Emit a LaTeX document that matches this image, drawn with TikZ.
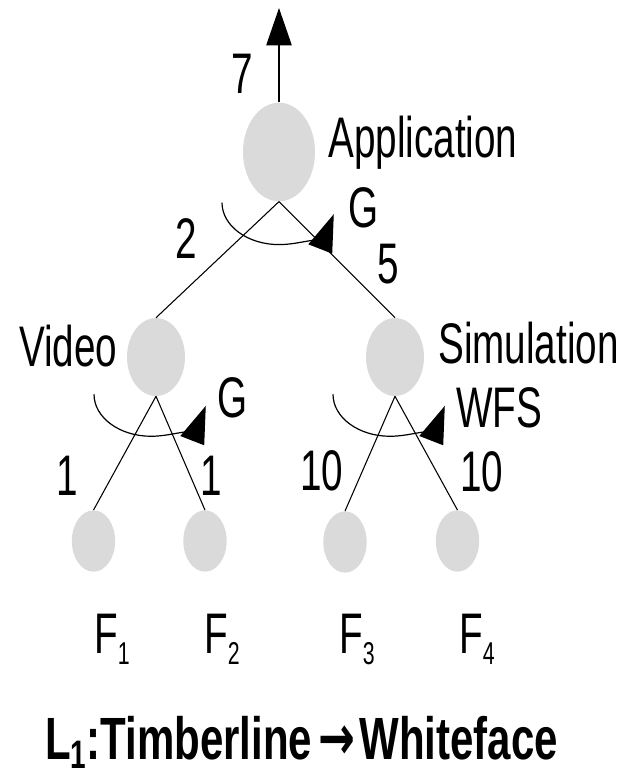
\documentclass[tikz,border=0pt]{standalone}
\usepackage{fontspec}
\setmainfont{Liberation Sans}
\newfontfamily\arrowfont{DejaVu Sans}
\usetikzlibrary{shapes.geometric,arrows.meta}
\definecolor{nodegray}{RGB}{218,218,218}
\newcommand{\lowidx}[1]{\raisebox{-6pt}{\fontsize{16}{18}\selectfont #1}}

\begin{document}
\begin{tikzpicture}[x=0.75pt,y=0.75pt,yscale=-1,xscale=1,
        blob/.style={ellipse, fill=nodegray, inner sep=0pt},
        lbl/.style={inner sep=0pt, font=\fontsize{29}{35}\selectfont, yscale=1.48},
        edge/.style={line width=0.8pt},
        turn/.style={line width=0.9pt, -{Triangle[length=28pt,width=19pt]}}]
        \useasboundingbox (0,0) rectangle (635,776);

        %Ellipses
        \node [blob, minimum width=54pt, minimum height=74pt] (app) at (279,152) {};
        \node [blob, minimum width=43.5pt, minimum height=58.5pt] (video) at (156,357) {};
        \node [blob, minimum width=43.5pt, minimum height=58.5pt] (sim) at (395,357) {};
        \node [blob, minimum width=32.5pt, minimum height=46pt] (f1) at (93.5,541) {};
        \node [blob, minimum width=32.5pt, minimum height=46pt] (f2) at (205,541) {};
        \node [blob, minimum width=32.5pt, minimum height=46pt] (f3) at (345,542) {};
        \node [blob, minimum width=32.5pt, minimum height=46pt] (f4) at (457.5,541) {};
        \coordinate (top) at (279,8);

        %Straight Lines
        \draw [line width=1.1pt, -{Triangle[length=28pt,width=19pt]}] (app.north) -- (top);
        \draw [edge] (app.south) -- (video.north);
        \draw [edge] (app.south) -- (sim.north);
        \draw [edge] (video.south) -- (f1.north);
        \draw [edge] (video.south) -- (f2.north);
        \draw [edge] (sim.south) -- (f3.north);
        \draw [edge] (sim.south) -- (f4.north);

        %Curve Lines
        \draw [turn] (app.south) ++(-57,1) arc [start angle=180, end angle=16, x radius=57, y radius=42];
        \draw [turn] (video.south) ++(-62,-2) arc [start angle=180, end angle=16, x radius=57, y radius=42];
        \draw [turn] (sim.south) ++(-62,-2) arc [start angle=180, end angle=16, x radius=57, y radius=42];

        % Text Node
        \node [lbl, anchor=base] (w7) at (242.5,93) {7};
        % Text Node
        \node [lbl, anchor=base west] (tapp) at (328,157) {Application};
        % Text Node
        \node [lbl, anchor=base west] (gapp) at (348,227) {G};
        % Text Node
        \node [lbl, anchor=base] (w2) at (186,258) {2};
        % Text Node
        \node [lbl, anchor=base] (w5) at (388.5,283) {5};
        % Text Node
        \node [lbl, anchor=base west] (tvideo) at (19,366) {Video};
        % Text Node
        \node [lbl, anchor=base west] (tsim) at (438,363) {Simulation};
        % Text Node
        \node [lbl, anchor=base west] (gvideo) at (217,417) {G};
        % Text Node
        \node [lbl, anchor=base west] (wfs) at (456,427) {WFS};
        % Text Node
        \node [lbl, anchor=base] (w1a) at (67,495) {1};
        % Text Node
        \node [lbl, anchor=base] (w1b) at (211,495) {1};
        % Text Node
        \node [lbl, anchor=base] (w10a) at (322,490) {10};
        % Text Node
        \node [lbl, anchor=base] (w10b) at (482,491) {10};
        % Text Node
        \node [lbl, anchor=base west] (lf1) at (94,653) {F\lowidx{1}};
        % Text Node
        \node [lbl, anchor=base west] (lf2) at (204,653) {F\lowidx{2}};
        % Text Node
        \node [lbl, anchor=base west] (lf3) at (339,653) {F\lowidx{3}};
        % Text Node
        \node [lbl, anchor=base west] (lf4) at (459,653) {F\lowidx{4}};
        % Text Node
        \node [inner sep=0pt, anchor=base west, font=\fontsize{31.5}{38}\selectfont\bfseries, yscale=1.42] (link) at (45,759) {L\raisebox{-5pt}{\fontsize{21}{24}\selectfont 1}:Timberline\hspace{5pt}{\arrowfont\fontsize{33}{38}\selectfont →}\hspace{3pt}Whiteface};

\end{tikzpicture}
\end{document}
